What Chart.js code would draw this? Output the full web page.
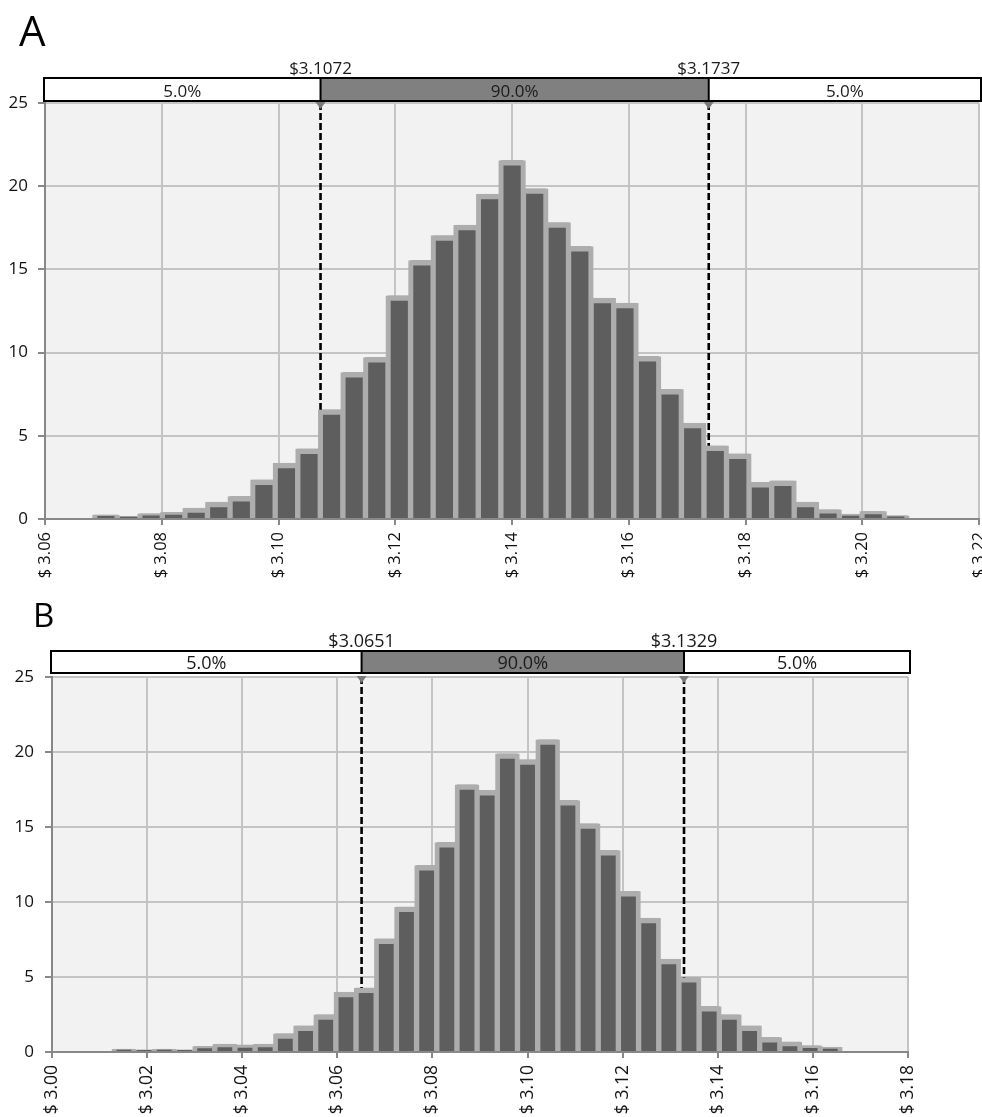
<!DOCTYPE html>
<html>
<head>
<meta charset="utf-8">
<script src="https://cdn.jsdelivr.net/npm/chart.js@4.4.0/dist/chart.umd.min.js"></script>
<style>
  body { margin: 0; background: #fff; width: 982px; height: 1117px; overflow: hidden; position: relative; }
  .panel { position: absolute; left: 0; width: 982px; }
  #panelA { top: 0; height: 600px; }
  #panelB { top: 598px; height: 519px; }
</style>
</head>
<body>
<div class="panel" id="panelA"><canvas id="chartA"></canvas></div>
<div class="panel" id="panelB"><canvas id="chartB"></canvas></div>
<script>
// Panel A: bin centres and bar heights
const binsA = [3.07043, 3.07430, 3.07817, 3.08203, 3.08590, 3.08976, 3.09363, 3.09750, 3.10136,
  3.10523, 3.10909, 3.11296, 3.11683, 3.12069, 3.12456, 3.12842, 3.13229, 3.13616, 3.14002,
  3.14389, 3.14775, 3.15162, 3.15549, 3.15935, 3.16322, 3.16708, 3.17095, 3.17482, 3.17868,
  3.18255, 3.18641, 3.19028, 3.19415, 3.19801, 3.20188, 3.20574];
const countsA = [0.25, 0.16, 0.32, 0.4, 0.66, 1.02, 1.36, 2.36, 3.36, 4.22, 6.57, 8.81, 9.71,
  13.42, 15.54, 17.03, 17.67, 19.53, 21.55, 19.85, 17.82, 16.38, 13.28, 12.98, 9.77, 7.8,
  5.77, 4.4, 3.92, 2.2, 2.3, 1.02, 0.56, 0.3, 0.46, 0.2];
const ticksA = ['$ 3.06', '$ 3.08', '$ 3.10', '$ 3.12', '$ 3.14', '$ 3.16', '$ 3.18', '$ 3.20', '$ 3.22'];
const percentilesA = [3.1072, 3.1737];
const sharesA = ['5.0%', '90.0%', '5.0%'];

// Panel B
const binsB = [3.01512, 3.01937, 3.02361, 3.02785, 3.03210, 3.03634, 3.04059, 3.04483, 3.04907,
  3.05332, 3.05756, 3.06181, 3.06605, 3.07029, 3.07454, 3.07878, 3.08303, 3.08727, 3.09151,
  3.09576, 3.10000, 3.10425, 3.10849, 3.11273, 3.11698, 3.12122, 3.12547, 3.12971, 3.13395,
  3.13820, 3.14244, 3.14669, 3.15093, 3.15517, 3.15942, 3.16366];
const countsB = [0.2, 0.15, 0.2, 0.15, 0.38, 0.53, 0.47, 0.53, 1.22, 1.75, 2.49, 4.0, 4.27,
  7.55, 9.67, 12.44, 13.97, 17.82, 17.44, 19.89, 19.49, 20.82, 16.77, 15.22, 13.44, 10.71,
  8.93, 6.2, 4.97, 3.04, 2.49, 1.75, 0.97, 0.67, 0.42, 0.33];
const ticksB = ['$ 3.00', '$ 3.02', '$ 3.04', '$ 3.06', '$ 3.08', '$ 3.10', '$ 3.12', '$ 3.14', '$ 3.16', '$ 3.18'];
const percentilesB = [3.0651, 3.1329];
const sharesB = ['5.0%', '90.0%', '5.0%'];

const yMax = 25;
const FONT = '"Open Sans", sans-serif';

// grey plot background, percentile strip, markers and panel letter
const overlay = {
  id: 'overlay',
  beforeDraw(chart) {
    const { ctx, chartArea: a } = chart;
    ctx.save();
    ctx.fillStyle = '#f2f2f2';
    ctx.fillRect(a.left, a.top, a.right - a.left, a.bottom - a.top);
    ctx.restore();
  },
  afterDraw(chart, args, o) {
    const { ctx, chartArea: a } = chart;
    const x = chart.scales.x;
    const p1 = x.getPixelForValue(o.percentiles[0]);
    const p2 = x.getPixelForValue(o.percentiles[1]);
    const bBot = a.top - o.gap, bTop = bBot - o.boxH;
    const L = a.left - 1, R = a.right + 2;
    ctx.save();
    ctx.fillStyle = '#fff';
    ctx.fillRect(L, bTop, R - L, o.boxH);
    ctx.fillStyle = '#808080';
    ctx.fillRect(p1, bTop, p2 - p1, o.boxH);
    ctx.strokeStyle = '#000';
    ctx.lineWidth = 2;
    ctx.strokeRect(L, bTop, R - L, o.boxH);
    ctx.beginPath();
    ctx.moveTo(p1, bTop); ctx.lineTo(p1, bBot);
    ctx.moveTo(p2, bTop); ctx.lineTo(p2, bBot);
    ctx.stroke();

    ctx.fillStyle = '#1a1a1a';
    ctx.font = o.fontSize + 'px ' + FONT;
    ctx.textAlign = 'center';
    ctx.textBaseline = 'alphabetic';
    ctx.fillText(o.shares[0], (L + p1) / 2, bBot - 4);
    ctx.fillText(o.shares[1], (p1 + p2) / 2, bBot - 4);
    ctx.fillText(o.shares[2], (p2 + R) / 2, bBot - 4);
    ctx.fillText('$' + o.percentiles[0].toFixed(4), p1, bTop - 4);
    ctx.fillText('$' + o.percentiles[1].toFixed(4), p2, bTop - 4);

    // little pins under the strip
    ctx.fillStyle = '#7a7a7a';
    [p1, p2].forEach(p => {
      ctx.beginPath();
      ctx.moveTo(p - 5, a.top - 1);
      ctx.lineTo(p + 5, a.top - 1);
      ctx.lineTo(p, a.top + 6);
      ctx.closePath();
      ctx.fill();
    });

    ctx.fillStyle = '#000';
    ctx.textAlign = 'left';
    ctx.font = o.letterSize + 'px ' + FONT;
    ctx.fillText(o.letter, o.letterX, o.letterY);
    ctx.restore();
  }
};

function guideLine(p, bins, counts) {
  // dashed line stops on the bar the percentile falls in
  let k = 0;
  bins.forEach((b, i) => { if (Math.abs(b - p) < Math.abs(bins[k] - p)) k = i; });
  return {
    type: 'line',
    order: 0,
    data: [{ x: p, y: yMax }, { x: p, y: counts[k] }],
    borderColor: '#000',
    borderWidth: 2.6,
    borderDash: [7, 3],
    pointRadius: 0,
    fill: false
  };
}

function makePanel(id, p) {
  const bars = p.bins.map((b, i) => ({ x: b, y: p.counts[i] }));
  return new Chart(document.getElementById(id), {
    type: 'bar',
    data: {
      datasets: [
        guideLine(p.percentiles[0], p.bins, p.counts),
        guideLine(p.percentiles[1], p.bins, p.counts),
        {
          type: 'bar',
          order: 1,
          data: bars,
          backgroundColor: '#5e5e5e',
          borderColor: '#adadad',
          borderWidth: { top: 5.5, left: 3, right: 3, bottom: 0 },
          borderSkipped: false,
          barPercentage: 1,
          categoryPercentage: 1
        },
        {
          // wider light-grey copy behind, gives the thick outer outline
          type: 'bar',
          order: 2,
          data: bars,
          backgroundColor: '#adadad',
          borderWidth: 0,
          barPercentage: 1.2,
          categoryPercentage: 1
        }
      ]
    },
    options: {
      responsive: true,
      maintainAspectRatio: false,
      animation: false,
      datasets: { bar: { grouped: false } },
      layout: { padding: { top: p.padTop, right: p.padRight, left: 0, bottom: 0 } },
      plugins: {
        legend: { display: false },
        tooltip: { enabled: false },
        overlay: {
          percentiles: p.percentiles, shares: p.shares, gap: p.gap, boxH: p.boxH,
          fontSize: p.labelSize, letter: p.letter, letterSize: p.letterSize,
          letterX: p.letterX, letterY: p.letterY
        }
      },
      scales: {
        x: {
          type: 'linear',
          min: p.xMin,
          max: p.xMax,
          offset: false,
          afterFit(s) { s.height = p.xAxisH; s.paddingLeft = 0; s.paddingRight = 0; },
          grid: { color: '#c4c4c4', lineWidth: 2, tickColor: '#888', tickLength: 6, offset: false },
          border: { color: '#888', width: 2 },
          ticks: {
            stepSize: 0.02,
            autoSkip: false,
            minRotation: 90,
            maxRotation: 90,
            padding: 7,
            color: '#111',
            font: { family: FONT, size: p.xTickSize },
            callback: (v, i) => p.ticks[i]
          }
        },
        y: {
          min: 0,
          max: yMax,
          afterFit(s) { s.width = p.yAxisW; },
          grid: { color: '#c4c4c4', lineWidth: 2, tickColor: '#888', tickLength: 7 },
          border: { color: '#888', width: 2 },
          ticks: { stepSize: 5, padding: p.yPad, color: '#111', font: { family: FONT, size: 17 } }
        }
      }
    },
    plugins: [overlay]
  });
}

makePanel('chartA', {
  bins: binsA, counts: countsA, ticks: ticksA, percentiles: percentilesA, shares: sharesA,
  xMin: 3.06, xMax: 3.22, padTop: 103, padRight: 3, xAxisH: 81, yAxisW: 45, yPad: 10,
  gap: 2, boxH: 23, labelSize: 17, xTickSize: 16.5,
  letter: 'A', letterSize: 42, letterX: 19, letterY: 46
});

makePanel('chartB', {
  bins: binsB, counts: countsB, ticks: ticksB, percentiles: percentilesB, shares: sharesB,
  xMin: 3.00, xMax: 3.18, padTop: 79, padRight: 74, xAxisH: 65, yAxisW: 52, yPad: 11,
  gap: 4, boxH: 22, labelSize: 18, xTickSize: 17.5,
  letter: 'B', letterSize: 33, letterX: 33, letterY: 29
});
</script>
</body>
</html>
